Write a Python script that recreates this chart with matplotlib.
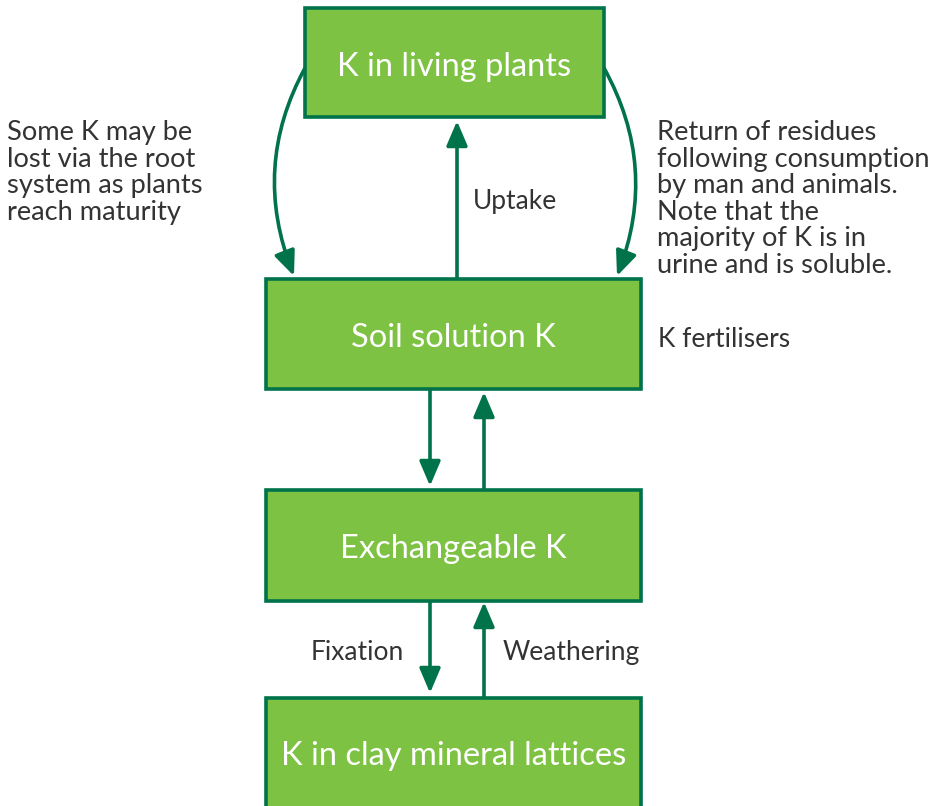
import matplotlib.pyplot as plt
from matplotlib.patches import Rectangle, FancyArrowPatch
from matplotlib.path import Path

plt.rcParams['font.family'] = ['Lato', 'DejaVu Sans']

FILL = '#7dc242'
EDGE = '#00734a'
TEXT = '#333333'

# boxes: label, left, top, right, bottom (pixel layout)
box_labels = ['K in living plants', 'Soil solution K', 'Exchangeable K',
              'K in clay mineral lattices']
box_left = [305, 266, 266, 266]
box_top = [8, 279, 490, 698]
box_right = [604, 641, 641, 641]
box_bottom = [117, 389, 601, 812]
box_text_y = [64, 335, 546, 753]

# straight arrows: x, y_from, y_to
arrow_x = [457, 430, 484, 430, 484]
arrow_y0 = [279, 389, 490, 601, 698]
arrow_y1 = [121, 486, 392, 693, 602]

# side labels: text, x, y, alignment
notes = [
    ('Some K may be\nlost via the root\nsystem as plants\nreach maturity', 7, 120, 'left'),
    ('Return of residues\nfollowing consumption\nby man and animals.\nNote that the\n'
     'majority of K is in\nurine and is soluble.', 657, 120, 'left'),
]
labels = [
    ('Uptake', 473, 199, 'left'),
    ('K fertilisers', 658, 337, 'left'),
    ('Fixation', 404, 650, 'right'),
    ('Weathering', 503, 650, 'left'),
]

fig = plt.figure(figsize=(9.42, 8.06), dpi=100)
ax = fig.add_axes([0, 0, 1, 1])
ax.set_xlim(0, 942)
ax.set_ylim(806, 0)
ax.axis('off')

for lab, l, t, r, b, ty in zip(box_labels, box_left, box_top, box_right,
                               box_bottom, box_text_y):
    ax.add_patch(Rectangle((l, t), r - l, b - t, facecolor=FILL, edgecolor=EDGE,
                           linewidth=2.6, zorder=2))
    ax.text((l + r) / 2, ty, lab, ha='center', va='center_baseline',
            color='white', fontsize=23.5, zorder=3)

style = '-|>,head_length=0.75,head_width=0.32'
for x, y0, y1 in zip(arrow_x, arrow_y0, arrow_y1):
    ax.add_patch(FancyArrowPatch((x, y0), (x, y1), arrowstyle=style,
                                 mutation_scale=20, color=EDGE, linewidth=2.6,
                                 shrinkA=0, shrinkB=0, zorder=1))

# curved arrows from top box down to soil box
curves = [((305, 68), (251, 167), (294, 276)),
          ((604, 68), (659, 167), (617, 276))]
for p0, c, p1 in curves:
    path = Path([p0, c, p1], [Path.MOVETO, Path.CURVE3, Path.CURVE3])
    ax.add_patch(FancyArrowPatch(path=path, arrowstyle=style, mutation_scale=20,
                                 color=EDGE, linewidth=2.6, zorder=1))

for txt, x, y, ha in notes:
    ax.text(x, y, txt, ha=ha, va='top', color=TEXT, fontsize=19.6,
            linespacing=1.08)
for txt, x, y, ha in labels:
    ax.text(x, y, txt, ha=ha, va='center_baseline', color=TEXT, fontsize=19)

fig.savefig('out.png', dpi=100)
